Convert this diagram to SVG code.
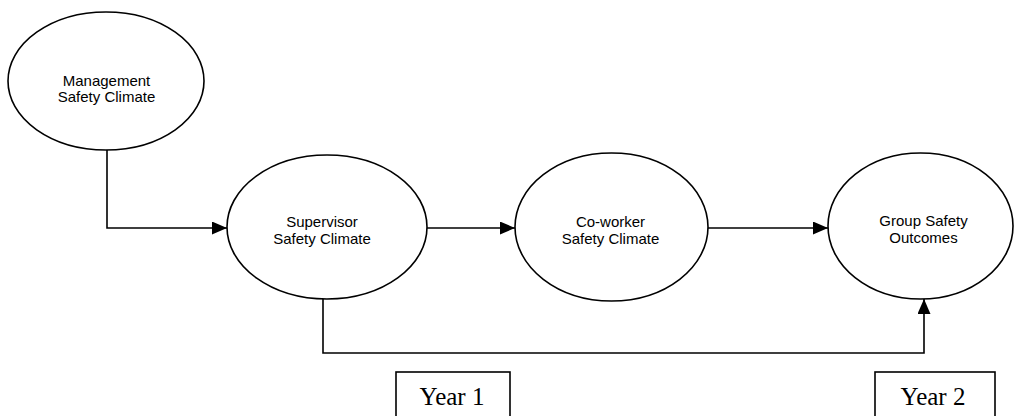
<svg xmlns="http://www.w3.org/2000/svg" width="1014" height="416" viewBox="0 0 1014 416">
  <style>
    .node { fill: #ffffff; stroke: #000000; stroke-width: 1.6; }
    .label { font-family: "Liberation Sans", Arial, sans-serif; font-size: 15px; fill: #000000; text-anchor: middle; }
    .edge { fill: none; stroke: #000000; stroke-width: 1.6; }
    .yearbox { fill: #ffffff; stroke: #000000; stroke-width: 1.6; }
    .year { font-family: "Liberation Serif", "Times New Roman", serif; font-size: 25px; fill: #000000; text-anchor: middle; }
  </style>
  <defs>
    <marker id="arrow" markerUnits="userSpaceOnUse" markerWidth="15" markerHeight="13" refX="15" refY="6.5" orient="auto">
      <path d="M0,0 L15,6.5 L0,13 Z" fill="#000000"/>
    </marker>
  </defs>
  <rect width="1014" height="416" fill="#ffffff"/>

  <!-- connectors -->
  <g id="connectors">
    <path class="edge" d="M107,150 V228 H227" marker-end="url(#arrow)"/>
    <path class="edge" d="M427,228 H515" marker-end="url(#arrow)"/>
    <path class="edge" d="M708,228 H828" marker-end="url(#arrow)"/>
    <path class="edge" d="M323,299 V353 H924 V299" marker-end="url(#arrow)"/>
  </g>

  <g id="management">
    <ellipse class="node" cx="106" cy="81" rx="98" ry="69"/>
    <text class="label" x="106.5" y="86">Management</text>
    <text class="label" x="106.5" y="102">Safety Climate</text>
  </g>

  <g id="supervisor">
    <ellipse class="node" cx="327" cy="227" rx="100" ry="72"/>
    <text class="label" x="322" y="227">Supervisor</text>
    <text class="label" x="322" y="244">Safety Climate</text>
  </g>

  <g id="coworker">
    <ellipse class="node" cx="611.5" cy="227" rx="96.5" ry="74"/>
    <text class="label" x="610.5" y="227">Co-worker</text>
    <text class="label" x="610.5" y="244">Safety Climate</text>
  </g>

  <g id="outcomes">
    <ellipse class="node" cx="920.5" cy="226" rx="92.5" ry="73"/>
    <text class="label" x="923.5" y="226">Group Safety</text>
    <text class="label" x="923.5" y="243">Outcomes</text>
  </g>

  <g id="year1">
    <rect class="yearbox" x="396" y="372" width="114" height="50"/>
    <text class="year" x="452" y="405">Year 1</text>
  </g>

  <g id="year2">
    <rect class="yearbox" x="875" y="372" width="120" height="50"/>
    <text class="year" x="933" y="405">Year 2</text>
  </g>
</svg>
